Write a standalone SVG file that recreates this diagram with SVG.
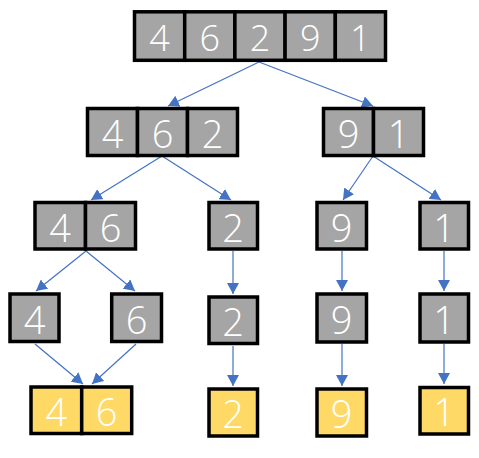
<svg xmlns="http://www.w3.org/2000/svg" width="479" height="458" viewBox="0 0 479 458">
<defs>
<style>
.g{fill:#A5A5A5;stroke:#000;stroke-width:3.5}
.y{fill:#FFD966;stroke:#000;stroke-width:3.5}
.t{fill:#fff;font-family:"Open Sans","Noto Sans",sans-serif;font-weight:300;font-size:38px;text-anchor:middle;dominant-baseline:central}
.t0{font-size:36px}
.c{stroke:#4472C4;stroke-width:1.2;fill:none;marker-end:url(#ah)}
</style>
<marker id="ah" markerUnits="userSpaceOnUse" markerWidth="12" markerHeight="12" refX="11" refY="6" orient="auto">
<path d="M0,0 L11,6 L0,12 z" fill="#4472C4"/>
</marker>
</defs>
<rect width="479" height="458" fill="#fff"/>
<g id="connectors">
<line class="c" x1="259" y1="62" x2="168" y2="106"/>
<line class="c" x1="259" y1="62" x2="373" y2="106"/>
<line class="c" x1="162" y1="156" x2="91" y2="200"/>
<line class="c" x1="162" y1="156" x2="231" y2="200"/>
<line class="c" x1="373" y1="156" x2="343" y2="200"/>
<line class="c" x1="373" y1="156" x2="441" y2="200"/>
<line class="c" x1="86" y1="251" x2="36" y2="291"/>
<line class="c" x1="86" y1="251" x2="135" y2="291"/>
<line class="c" x1="35" y1="344" x2="83" y2="384"/>
<line class="c" x1="136" y1="344" x2="92" y2="384"/>
<line class="c" x1="233" y1="251" x2="233" y2="294"/>
<line class="c" x1="233" y1="346" x2="233" y2="386"/>
<line class="c" x1="342" y1="251" x2="342" y2="291"/>
<line class="c" x1="342" y1="344" x2="342" y2="386"/>
<line class="c" x1="444" y1="251" x2="444" y2="291"/>
<line class="c" x1="444" y1="344" x2="444" y2="384"/>
</g>
<g id="n-top">
<rect class="g" x="134.5" y="11.8" width="50.2" height="48.5"/>
<rect class="g" x="184.7" y="11.8" width="50.2" height="48.5"/>
<rect class="g" x="234.9" y="11.8" width="50.2" height="48.5"/>
<rect class="g" x="285.1" y="11.8" width="50.2" height="48.5"/>
<rect class="g" x="335.3" y="11.8" width="50.2" height="48.5"/>
<text class="t t0" x="159.6" y="37">4</text>
<text class="t t0" x="209.8" y="37">6</text>
<text class="t t0" x="260" y="37">2</text>
<text class="t t0" x="310.2" y="37">9</text>
<text class="t t0" x="360.4" y="37">1</text>
</g>
<g id="n-462">
<rect class="g" x="87.5" y="108.5" width="50" height="47"/>
<rect class="g" x="137.5" y="108.5" width="50" height="47"/>
<rect class="g" x="187.5" y="108.5" width="50" height="47"/>
<text class="t" x="112.5" y="133">4</text>
<text class="t" x="162.5" y="133">6</text>
<text class="t" x="212.5" y="133">2</text>
</g>
<g id="n-91">
<rect class="g" x="323.5" y="108.5" width="50" height="47"/>
<rect class="g" x="373.5" y="108.5" width="50" height="47"/>
<text class="t" x="348.5" y="133">9</text>
<text class="t" x="398.5" y="133">1</text>
</g>
<g id="n-46">
<rect class="g" x="35" y="202.5" width="50.5" height="46.5"/>
<rect class="g" x="85.5" y="202.5" width="50" height="46.5"/>
<text class="t" x="60.2" y="227">4</text>
<text class="t" x="110.5" y="227">6</text>
</g>
<g id="n-2a">
<rect class="g" x="209" y="202.5" width="48.5" height="46.5"/>
<text class="t" x="233.2" y="227">2</text>
</g>
<g id="n-9a">
<rect class="g" x="317" y="202.5" width="49.5" height="46.5"/>
<text class="t" x="341.7" y="227">9</text>
</g>
<g id="n-1a">
<rect class="g" x="420" y="202.5" width="48.5" height="46.5"/>
<text class="t" x="444.2" y="227">1</text>
</g>
<g id="n-4">
<rect class="g" x="10" y="294" width="49" height="47.5"/>
<text class="t" x="34.5" y="319">4</text>
</g>
<g id="n-6">
<rect class="g" x="111.7" y="294" width="49.8" height="47.5"/>
<text class="t" x="136.6" y="319">6</text>
</g>
<g id="n-2b">
<rect class="g" x="209" y="297" width="48.5" height="46.5"/>
<text class="t" x="233.2" y="321">2</text>
</g>
<g id="n-9b">
<rect class="g" x="317" y="294" width="49.5" height="48"/>
<text class="t" x="341.7" y="319">9</text>
</g>
<g id="n-1b">
<rect class="g" x="420" y="294" width="48.5" height="48"/>
<text class="t" x="444.2" y="319">1</text>
</g>
<g id="n-y46">
<rect class="y" x="31" y="387" width="50.7" height="46.5"/>
<rect class="y" x="81.7" y="387" width="50" height="46.5"/>
<text class="t" x="56.3" y="411">4</text>
<text class="t" x="106.7" y="411">6</text>
</g>
<g id="n-y2">
<rect class="y" x="209" y="389" width="48.5" height="47"/>
<text class="t" x="233.2" y="413">2</text>
</g>
<g id="n-y9">
<rect class="y" x="317" y="389" width="49.5" height="47"/>
<text class="t" x="341.7" y="413">9</text>
</g>
<g id="n-y1">
<rect class="y" x="420" y="387.5" width="48.5" height="46.5"/>
<text class="t" x="444.2" y="411">1</text>
</g>
</svg>
